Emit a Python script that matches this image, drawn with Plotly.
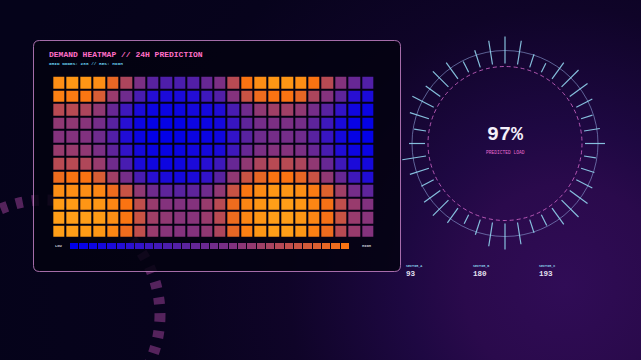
import math
import base64
import plotly.graph_objects as go

W, H = 641, 360

# ---------------- data ----------------
hour_cols = list(range(24))
zone_rows = list(range(12))

demand_rows = [
    [85, 88, 88, 85, 70, 55, 42, 30, 27, 26, 28, 35, 42, 58, 75, 85, 88, 88, 85, 75, 58, 45, 35, 28],
    [80, 78, 76, 66, 50, 38, 25, 14, 10, 10, 13, 22, 28, 45, 62, 72, 75, 75, 70, 55, 45, 32, 15, 10],
    [58, 58, 55, 48, 35, 22, 10, 5, 4, 5, 8, 8, 12, 25, 38, 48, 52, 52, 48, 40, 30, 18, 6, 4],
    [48, 48, 46, 40, 30, 15, 5, 2, 2, 2, 5, 5, 8, 20, 32, 40, 42, 42, 40, 32, 22, 10, 3, 2],
    [45, 45, 44, 38, 28, 12, 4, 1, 1, 2, 4, 4, 6, 18, 30, 38, 40, 40, 38, 30, 20, 8, 2, 1],
    [50, 50, 48, 42, 32, 18, 8, 4, 3, 4, 7, 8, 10, 22, 35, 42, 45, 45, 42, 35, 25, 12, 5, 4],
    [58, 58, 56, 50, 38, 25, 10, 6, 5, 6, 10, 15, 22, 35, 48, 55, 58, 58, 55, 48, 35, 22, 10, 8],
    [72, 75, 75, 66, 52, 40, 25, 15, 10, 8, 10, 18, 30, 48, 62, 70, 75, 75, 70, 62, 48, 35, 22, 12],
    [85, 85, 85, 82, 72, 62, 48, 38, 32, 30, 32, 38, 48, 62, 76, 84, 88, 88, 85, 78, 68, 52, 40, 32],
    [90, 90, 88, 88, 82, 75, 60, 50, 45, 44, 45, 50, 58, 72, 82, 88, 92, 92, 88, 82, 74, 60, 50, 44],
    [92, 92, 92, 90, 85, 76, 62, 52, 48, 46, 46, 50, 58, 72, 82, 88, 92, 92, 88, 82, 74, 62, 50, 46],
    [92, 92, 90, 88, 82, 72, 60, 50, 46, 45, 45, 48, 55, 70, 80, 88, 92, 92, 88, 80, 72, 58, 50, 45],
]

legend_steps = [0, 3, 5, 8, 10, 13, 16, 18, 21, 23, 26, 28, 31, 34, 36,
                39, 41, 44, 47, 49, 52, 54, 57, 60, 62, 65, 67, 70, 72, 75]

gauge_value = 97
sector_names = ["SECTOR_A", "SECTOR_B", "SECTOR_C"]
sector_values = [93, 180, 193]
tick_lengths = [27, 24, 14, 10, 20, 24, 22, 18, 12, 16, 20, 12, 14, 18, 22, 24, 20, 12, 14, 22,
                26, 24, 16, 10, 18, 22, 20, 14, 20, 24, 16, 12, 20, 24, 18, 22, 20, 12, 18, 24]

# ---------------- style ----------------
MONO = "Liberation Mono, DejaVu Sans Mono, monospace"
colorscale = [
    [0.00, "rgb(0,0,232)"],
    [0.15, "rgb(40,15,210)"],
    [0.30, "rgb(88,34,160)"],
    [0.45, "rgb(132,50,125)"],
    [0.60, "rgb(192,78,76)"],
    [0.75, "rgb(250,115,18)"],
    [0.90, "rgb(255,155,22)"],
    [1.00, "rgb(255,172,30)"],
]


def px(x):
    return x / W


def py(y):
    return 1 - y / H


fig = go.Figure()

fig.add_trace(go.Heatmap(
    z=demand_rows, x=hour_cols, y=zone_rows, colorscale=colorscale,
    zmin=0, zmax=100, xgap=2, ygap=2, showscale=False, hoverinfo="skip",
    xaxis="x", yaxis="y"))

fig.add_trace(go.Heatmap(
    z=[legend_steps], colorscale=colorscale, zmin=0, zmax=100,
    xgap=1, showscale=False, hoverinfo="skip", xaxis="x2", yaxis="y2"))

# ---------------- background ----------------
svg = f"""<svg xmlns='http://www.w3.org/2000/svg' width='{W}' height='{H}' viewBox='0 0 {W} {H}'>
<defs>
<radialGradient id='g' cx='565' cy='285' r='590' gradientUnits='userSpaceOnUse'>
<stop offset='0' stop-color='#300c56'/>
<stop offset='0.17' stop-color='#2a0a4c'/>
<stop offset='0.27' stop-color='#1e0842'/>
<stop offset='0.47' stop-color='#0f0428'/>
<stop offset='0.7' stop-color='#07031c'/>
<stop offset='1' stop-color='#05031a'/>
</radialGradient>
</defs>
<rect width='{W}' height='{H}' fill='url(#g)'/>
</svg>"""
bg_src = "data:image/svg+xml;base64," + base64.b64encode(svg.encode()).decode()

shapes = []

# decorative dashed arc (left)
dcx, dcy, dr = 45, 315, 115
shapes.append(dict(type="circle", xref="paper", yref="paper", layer="below",
                   x0=px(dcx - dr), x1=px(dcx + dr), y0=py(dcy + dr), y1=py(dcy - dr),
                   line=dict(color="rgba(150,62,145,0.55)", width=11, dash="7px,9px")))

# panel with rounded corners
L, T, R, B, rad = 33.5, 40.5, 400.5, 271.5, 6
rx, ry = rad / W, rad / H
path = (f"M {px(L)+rx},{py(T)} L {px(R)-rx},{py(T)} Q {px(R)},{py(T)} {px(R)},{py(T)-ry} "
        f"L {px(R)},{py(B)+ry} Q {px(R)},{py(B)} {px(R)-rx},{py(B)} "
        f"L {px(L)+rx},{py(B)} Q {px(L)},{py(B)} {px(L)},{py(B)+ry} "
        f"L {px(L)},{py(T)-ry} Q {px(L)},{py(T)} {px(L)+rx},{py(T)} Z")
shapes.append(dict(type="path", xref="paper", yref="paper", layer="below", path=path,
                   fillcolor="rgba(4,2,16,0.86)",
                   line=dict(color="rgba(205,135,205,0.8)", width=1)))

# gauge
gcx, gcy = 505, 143.5
for r, col, dash, w in [(93, "rgba(140,160,215,0.6)", "solid", 1),
                        (77, "rgba(215,105,205,0.8)", "4px,3px", 1)]:
    shapes.append(dict(type="circle", xref="paper", yref="paper",
                       x0=px(gcx - r), x1=px(gcx + r), y0=py(gcy + r), y1=py(gcy - r),
                       line=dict(color=col, width=w, dash=dash)))
n = len(tick_lengths)
for i, ln in enumerate(tick_lengths):
    a = 2 * math.pi * i / n
    r0, r1 = 80, 80 + ln
    shapes.append(dict(type="line", xref="paper", yref="paper",
                       x0=px(gcx + r0 * math.sin(a)), y0=py(gcy - r0 * math.cos(a)),
                       x1=px(gcx + r1 * math.sin(a)), y1=py(gcy - r1 * math.cos(a)),
                       line=dict(color="rgba(145,212,238,0.9)", width=1.2)))

annotations = []


def txt(x, y, text, size, color, xanchor="left"):
    annotations.append(dict(x=px(x), y=py(y), xref="paper", yref="paper", text=text,
                            showarrow=False, xanchor=xanchor, yanchor="middle",
                            font=dict(family=MONO, size=size, color=color)))


txt(46.5, 54, "<b>DEMAND HEATMAP // 24H PREDICTION</b>", 8, "#ff6ec7")
txt(46.5, 63, "<b>GRID NODES: 288 // RES: HIGH</b>", 4.4, "#62c6e6")
txt(53, 246, "<b>LOW</b>", 3.8, "rgba(225,225,235,0.85)")
txt(360, 246, "<b>HIGH</b>", 3.8, "rgba(225,225,235,0.85)")
txt(505, 134, f"<b>{gauge_value}%</b>", 20, "#f4f0fa", xanchor="center")
txt(505, 152, "PREDICTED LOAD", 4.6, "#e86ad0", xanchor="center")
for i, (nm, v) in enumerate(zip(sector_names, sector_values)):
    x0 = 404 + 66.7 * i
    txt(x0, 265.7, f"<b>{nm}</b>", 3.4, "#86c8e4")
    txt(x0, 274.4, f"<b>{v}</b>", 7.6, "#e6e2f2")

fig.update_layout(
    width=W, height=H, margin=dict(l=0, r=0, t=0, b=0),
    paper_bgcolor="#080420", plot_bgcolor="rgba(0,0,0,0)",
    showlegend=False,
    images=[dict(source=bg_src, xref="paper", yref="paper", x=0, y=1, sizex=1, sizey=1,
                 sizing="stretch", layer="below", xanchor="left", yanchor="top")],
    shapes=shapes, annotations=annotations,
    xaxis=dict(domain=[px(52.3), px(374.3)], range=[-0.5, 23.5], visible=False, fixedrange=True),
    yaxis=dict(domain=[py(237.7), py(75.7)], range=[11.5, -0.5], visible=False, fixedrange=True),
    xaxis2=dict(domain=[px(70), px(350)], visible=False, anchor="y2"),
    yaxis2=dict(domain=[py(249), py(243)], visible=False, anchor="x2"),
)

fig.write_html("out.html")
